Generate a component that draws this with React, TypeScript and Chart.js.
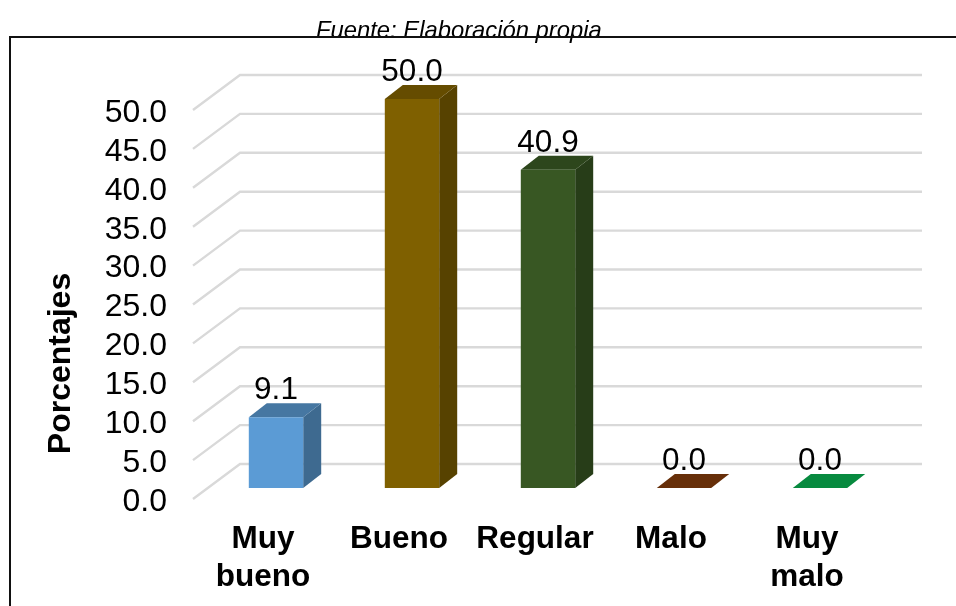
import React, { useEffect, useRef } from "react";
import { Chart, registerables } from "chart.js";

Chart.register(...registerables);

const categories = [["Muy", "bueno"], "Bueno", "Regular", "Malo", ["Muy", "malo"]];
const values = [9.1, 50.0, 40.9, 0.0, 0.0];
const frontColors = ["#5B9BD5", "#7F6000", "#385723", "#843C0C", "#0BAD50"];
const topColors = ["#4677A2", "#654C00", "#2D461C", "#672F09", "#078A3F"];
const sideColors = ["#3E6A90", "#574200", "#273D18", "#5A2908", "#067836"];
const sourceNote = "Fuente: Elaboración propia";
const axisTitle = "Porcentajes";

const FONT = "'Liberation Sans', Arial, sans-serif";
const TICK_SIZE = 32;
const LABEL_SIZE = 31.5;
const DX = 18;
const DY = 14;
const WALL_DY = 24;
const FLOOR_DY = 11;
const LEFT_X = 193;
const BACK_X = 240;
const RIGHT_X = 922;

const threeD = {
  id: "threeD",
  beforeDraw(chart: any) {
    // centres the axis title on the front plane of the axis, not on the bar plane
    chart.scales.y.bottom = chart.chartArea.bottom + 140;
  },
  beforeDatasetsDraw(chart: any) {
    const { ctx, scales } = chart;
    ctx.save();
    ctx.strokeStyle = "#D9D9D9";
    ctx.lineWidth = 2.4;
    ctx.lineJoin = "miter";
    (scales.y.ticks as any[]).forEach((t) => {
      const y = scales.y.getPixelForValue(t.value);
      ctx.beginPath();
      ctx.moveTo(LEFT_X, y + FLOOR_DY);
      ctx.lineTo(BACK_X, y - WALL_DY);
      ctx.lineTo(RIGHT_X, y - WALL_DY);
      ctx.stroke();
    });
    const meta = chart.getDatasetMeta(0);
    meta.data.forEach((bar: any, i: number) => {
      const l = bar.x - bar.width / 2;
      const r = bar.x + bar.width / 2;
      const t = bar.y;
      const b = bar.base;
      ctx.fillStyle = sideColors[i];
      ctx.beginPath();
      ctx.moveTo(r, t);
      ctx.lineTo(r + DX, t - DY);
      ctx.lineTo(r + DX, b - DY);
      ctx.lineTo(r, b);
      ctx.closePath();
      ctx.fill();
      ctx.fillStyle = topColors[i];
      ctx.beginPath();
      ctx.moveTo(l, t);
      ctx.lineTo(l + DX, t - DY);
      ctx.lineTo(r + DX, t - DY);
      ctx.lineTo(r, t);
      ctx.closePath();
      ctx.fill();
    });
    ctx.restore();
  },
  afterDatasetsDraw(chart: any) {
    const { ctx } = chart;
    ctx.save();
    ctx.font = `${LABEL_SIZE}px ${FONT}`;
    ctx.fillStyle = "#000";
    ctx.textAlign = "center";
    ctx.textBaseline = "alphabetic";
    chart.getDatasetMeta(0).data.forEach((bar: any, i: number) => {
      ctx.fillText(values[i].toFixed(1), bar.x, bar.y - 18);
    });
    ctx.restore();
  },
};

export default function App() {
  const ref = useRef<HTMLCanvasElement>(null);
  useEffect(() => {
    const chart = new Chart(ref.current as HTMLCanvasElement, {
      type: "bar",
      plugins: [threeD],
      data: {
        labels: categories as any,
        datasets: [
          {
            label: axisTitle,
            data: values,
            backgroundColor: frontColors,
            barPercentage: 0.4,
            categoryPercentage: 1,
          },
        ],
      },
      options: {
        animation: false,
        responsive: false,
        layout: { padding: { left: 0, top: 99, right: 68, bottom: 0 } },
        plugins: { legend: { display: false }, tooltip: { enabled: false } },
        scales: {
          x: {
            grid: { display: false },
            border: { display: false },
            afterFit(scale: any) {
              scale.height = 118;
            },
            ticks: {
              color: "#000",
              autoSkip: false,
              maxRotation: 0,
              minRotation: 0,
              labelOffset: -13,
              padding: 24,
              font: { family: FONT, size: LABEL_SIZE, weight: "bold", lineHeight: 1.21 },
            },
          },
          y: {
            min: 0,
            max: 50,
            grid: { display: false, drawTicks: false },
            border: { display: false },
            afterFit(scale: any) {
              scale.width = 208;
            },
            title: {
              display: true,
              text: axisTitle,
              color: "#000",
              padding: { top: 42, bottom: 0 },
              font: { family: FONT, size: TICK_SIZE, weight: "bold" },
            },
            ticks: {
              color: "#000",
              stepSize: 5,
              autoSkip: false,
              padding: 41,
              labelOffset: 14,
              font: { family: FONT, size: TICK_SIZE },
              callback: (v: any) => Number(v).toFixed(1),
            },
          },
        },
      } as any,
    });
    return () => chart.destroy();
  }, []);
  return (
    <div style={{ position: "fixed", left: 0, top: 0, width: 956, height: 606, overflow: "hidden", background: "#fff" }}>
      <canvas ref={ref} width={956} height={606} style={{ position: "absolute", left: 0, top: 0, display: "block" }} />
      <div
        style={{
          position: "absolute",
          left: 316,
          top: 17,
          fontFamily: FONT,
          fontStyle: "italic",
          fontSize: 23.8,
          lineHeight: "26px",
          color: "#000",
          whiteSpace: "nowrap",
        }}
      >
        {sourceNote}
      </div>
      <div style={{ position: "absolute", left: 9, top: 36, right: 0, height: 2, background: "#111" }} />
      <div style={{ position: "absolute", left: 9, top: 36, bottom: 0, width: 2, background: "#111" }} />
    </div>
  );
}
